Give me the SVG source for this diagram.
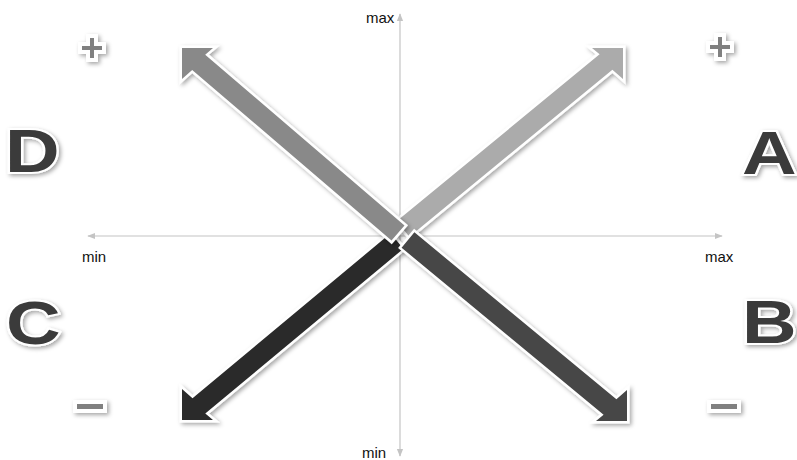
<svg xmlns="http://www.w3.org/2000/svg" width="797" height="460" viewBox="0 0 797 460">
<style>
.axis{stroke:#c4c4c4;stroke-width:1.2;fill:none}
.axlbl{font-family:"Liberation Sans",Arial,sans-serif;font-size:15px;fill:#111}
.arr{stroke:#fff;stroke-width:5;stroke-linejoin:miter;paint-order:stroke;filter:url(#sh)}
.letter{filter:url(#sh)}
.big{font-family:"Liberation Sans",Arial,sans-serif;font-weight:bold;font-size:62px;fill:#3a3a3a;stroke:#fff;stroke-width:4;paint-order:stroke}
.sign{fill:#808080;stroke:#fff;stroke-width:8;stroke-linejoin:miter;paint-order:stroke;filter:url(#sh)}
</style>
<defs>
<filter id="sh" filterUnits="userSpaceOnUse" x="0" y="0" width="797" height="460">
<feDropShadow dx="2" dy="2" stdDeviation="2" flood-color="#000" flood-opacity="0.35"/>
</filter>
<marker id="ah" viewBox="0 0 10 10" refX="9" refY="5" markerWidth="8" markerHeight="8" orient="auto-start-reverse" markerUnits="userSpaceOnUse">
<path d="M0,1 L10,5 L0,9 z" fill="#c4c4c4"/>
</marker>
</defs>
<g id="axes">
<line class="axis" x1="400" y1="456" x2="400" y2="14" marker-end="url(#ah)" marker-start="url(#ah)"/>
<line class="axis" x1="88" y1="236" x2="722" y2="236" marker-end="url(#ah)" marker-start="url(#ah)"/>
<text class="axlbl" x="366" y="23">max</text>
<text class="axlbl" x="362" y="458">min</text>
<text class="axlbl" x="82" y="262">min</text>
<text class="axlbl" x="705" y="262">max</text>
</g>
<g id="connectors">
<polygon id="arrowA" class="arr" fill="#ababab" points="623,48 592,48 599.6,54.3 396.6,221.3 409.4,236.7 612.4,69.7 623,79"/>
<polygon id="arrowC" class="arr" fill="#2b2b2b" points="182,420 182,389 192.5,398.2 390.6,233.3 403.4,248.7 205.3,413.6 213,420"/>
<polygon id="arrowD" class="arr" fill="#898989" points="182,48 213,48 205.2,54.7 404.5,225.4 391.5,240.6 192.2,69.9 182,79"/>
<polygon id="arrowB" class="arr" fill="#474747" points="627,421 627,390 616.4,399.3 414.4,232.3 401.6,247.7 603.6,414.7 596,421"/>
</g>
<g id="nodeD" class="letter"><text class="big" transform="translate(5,172) scale(1.22,1)">D</text></g>
<g id="nodeA" class="letter"><text class="big" transform="translate(742,174) scale(1.22,1)">A</text></g>
<g id="nodeC" class="letter"><text class="big" transform="translate(6,344) scale(1.22,1)">C</text></g>
<g id="nodeB" class="letter"><text class="big" transform="translate(742,343) scale(1.22,1)">B</text></g>
<g id="plusL"><path class="sign" d="M90,38 h4 v8 h8 v4 h-8 v8 h-4 v-8 h-8 v-4 h8 z"/></g>
<g id="plusR"><path class="sign" d="M718,37 h4 v8 h8 v4 h-8 v8 h-4 v-8 h-8 v-4 h8 z"/></g>
<g id="minusL"><rect class="sign" x="77" y="404" width="26" height="5"/></g>
<g id="minusR"><rect class="sign" x="711" y="404" width="26" height="5"/></g>
</svg>
